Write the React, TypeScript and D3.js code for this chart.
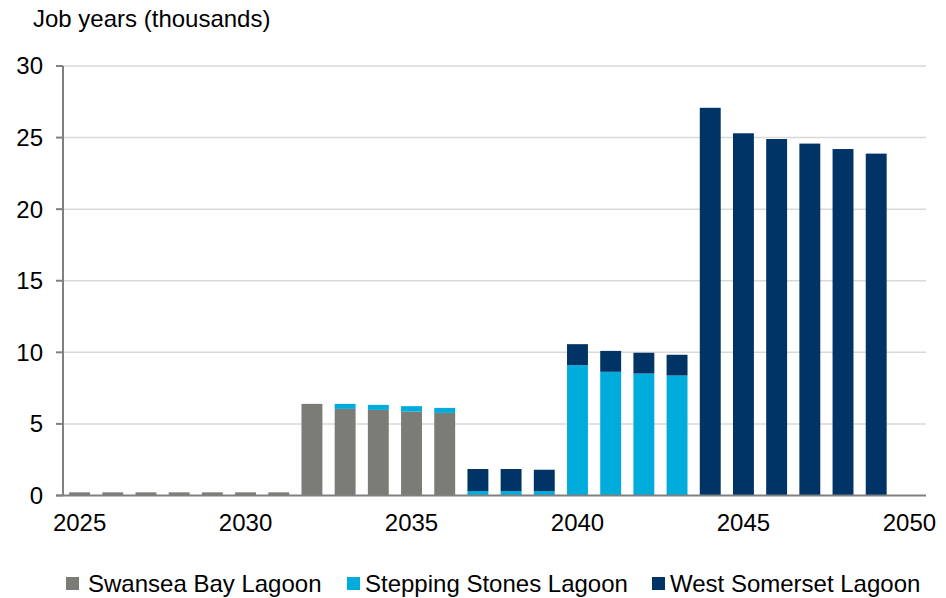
import React from "react";
import * as d3 from "d3";

// Job years (thousands) by year for each lagoon project
const years: number[] = d3.range(2025, 2051);
const seriesNames = ["Swansea Bay Lagoon", "Stepping Stones Lagoon", "West Somerset Lagoon"];
const seriesColors = ["#7c7c77", "#00acdc", "#003366"];

const swanseaBay = [
  0.22, 0.22, 0.22, 0.22, 0.22, 0.22, 0.22, 6.4, 6.05, 5.98, 5.86, 5.77, 0, 0, 0,
  0, 0, 0, 0, 0, 0, 0, 0, 0, 0, 0,
];
const steppingStones = [
  0, 0, 0, 0, 0, 0, 0, 0, 0.35, 0.35, 0.38, 0.35, 0.31, 0.31, 0.31,
  9.1, 8.64, 8.52, 8.38, 0, 0, 0, 0, 0, 0, 0,
];
const westSomerset = [
  0, 0, 0, 0, 0, 0, 0, 0, 0, 0, 0, 0, 1.54, 1.54, 1.49,
  1.47, 1.46, 1.45, 1.45, 27.08, 25.3, 24.9, 24.58, 24.2, 23.88, 0,
];
const yTicks = [0, 5, 10, 15, 20, 25, 30];
const xLabelYears = [2025, 2030, 2035, 2040, 2045, 2050];

const W = 946;
const H = 598;
const left = 63;
const right = 926;
const top = 66;
const bottom = 495.5;
const font = "'Liberation Sans', Arial, sans-serif";
const fs = 24;

export default function App() {
  const rows = years.map((y, i) => ({
    year: y,
    s0: swanseaBay[i],
    s1: steppingStones[i],
    s2: westSomerset[i],
  }));
  const stacked = d3.stack<any>().keys(["s0", "s1", "s2"])(rows);

  const x = d3
    .scaleBand<number>()
    .domain(years)
    .range([left, right])
    .paddingInner(0.37)
    .paddingOuter(0.185);
  const y = d3.scaleLinear().domain([0, 30]).range([bottom, top]);

  const legendItems = [
    { sx: 66, tx: 88 },
    { sx: 347, tx: 365 },
    { sx: 652, tx: 670 },
  ];

  return (
    <div style={{ position: "fixed", left: 0, top: 0 }}>
      <svg width={W} height={H} style={{ display: "block", background: "#fff" }}>
        <text x={33} y={27} fontFamily={font} fontSize={fs} fill="#000">
          Job years (thousands)
        </text>

        {/* gridlines */}
        {yTicks
          .filter((t) => t > 0)
          .map((t) => (
            <line key={t} x1={left} x2={right} y1={y(t)} y2={y(t)} stroke="#d9d9d9" strokeWidth={1.5} />
          ))}

        {/* stacked bars */}
        {stacked.map((layer, li) => (
          <g key={li} fill={seriesColors[li]}>
            {layer.map((d: any, i: number) => {
              const h = y(d[0]) - y(d[1]);
              if (h <= 0) return null;
              return (
                <rect key={i} x={x(years[i])} y={y(d[1])} width={x.bandwidth()} height={h} />
              );
            })}
          </g>
        ))}

        {/* y axis */}
        <line x1={left} x2={left} y1={top} y2={bottom} stroke="#808080" strokeWidth={2} />
        {yTicks.map((t) => (
          <g key={t}>
            <line x1={56} x2={left} y1={y(t)} y2={y(t)} stroke="#808080" strokeWidth={2} />
            <text
              x={43}
              y={y(t)}
              dy="0.35em"
              textAnchor="end"
              fontFamily={font}
              fontSize={fs}
              fill="#000"
            >
              {t}
            </text>
          </g>
        ))}

        {/* x axis */}
        <line x1={56} x2={right} y1={bottom} y2={bottom} stroke="#808080" strokeWidth={2} />
        {xLabelYears.map((yr) => (
          <text
            key={yr}
            x={(x(yr) as number) + x.bandwidth() / 2}
            y={531}
            textAnchor="middle"
            fontFamily={font}
            fontSize={fs}
            fill="#000"
          >
            {yr}
          </text>
        ))}

        {/* legend */}
        {seriesNames.map((name, i) => (
          <g key={name}>
            <rect x={legendItems[i].sx} y={577} width={13} height={13} fill={seriesColors[i]} />
            <text x={legendItems[i].tx} y={592} fontFamily={font} fontSize={fs} fill="#000">
              {name}
            </text>
          </g>
        ))}
      </svg>
    </div>
  );
}
